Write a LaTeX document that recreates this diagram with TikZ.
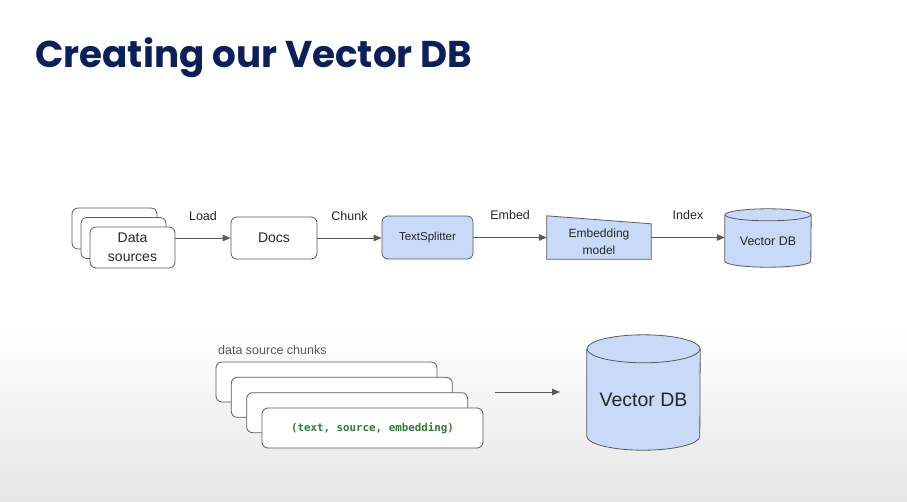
\documentclass[tikz,border=0pt]{standalone}
\usepackage{fontspec}
\setmainfont{Liberation Sans}
\newfontfamily\titlefont{Poppins}
\newfontfamily\codefont{DejaVu Sans Mono}
\usetikzlibrary{arrows.meta,backgrounds}

\definecolor{titlenavy}{HTML}{0B1F5C}
\definecolor{edgegray}{HTML}{5A5A5A}
\definecolor{dbblue}{HTML}{C9DAF8}
\definecolor{codegreen}{HTML}{2E7D32}
\definecolor{textgray}{HTML}{262626}

\tikzset{
  rbox/.style={draw=edgegray, line width=0.8pt, rounded corners=6pt, fill=white,
    inner sep=0pt, align=center, text=textgray},
  flow/.style={draw=edgegray, line width=0.8pt, -{Triangle[length=8pt,width=6.5pt]}},
  steplabel/.style={midway, anchor=base, yshift=18pt, text=textgray,
    font=\fontsize{12.5}{15}\selectfont},
}

\begin{document}
\begin{tikzpicture}[x=1pt,y=1pt]
	\useasboundingbox (0,0) rectangle (907,-501);
	
	% title
	\node[anchor=base west, inner sep=0pt, text=titlenavy,
	font=\titlefont\bfseries\fontsize{37.3}{42}\selectfont] (title) at (35,-67) {Creating our Vector DB};
	
	%--- top row: load -> chunk -> embed -> index ---
	\foreach \i/\dx/\dy in {1/0/0, 2/9/9.5}{
		\node[rbox, minimum width=85pt, minimum height=41pt] (ds\i) at (114.5+\dx,-228.5-\dy) {};
	}
	\node[rbox, minimum width=85pt, minimum height=41pt, font=\fontsize{14}{19}\selectfont] (ds3) at (132.5,-247.5) {Data\\sources};
	\node[rbox, minimum width=86pt, minimum height=42pt, font=\fontsize{14}{17}\selectfont] (docs) at (274,-238) {Docs};
	\node[rbox, fill=dbblue, minimum width=91pt, minimum height=43pt, font=\fontsize{11.5}{14}\selectfont] (split) at (427.5,-237.5) {TextSplitter};
	\node[inner sep=0pt, minimum width=104pt, minimum height=35pt, align=center, text=textgray,
	font=\fontsize{12}{17}\selectfont] (embed) at (599,-241.5) {Embedding\\model};
	\node[inner sep=0pt, minimum width=86pt, minimum height=52pt, text=textgray,
	font=\fontsize{12.5}{15}\selectfont] (vdb) at (768,-241) {Vector DB};
	
	% connectors with step names
	\draw[flow] (ds3.east |- docs.west) -- node[steplabel] {Load} (docs.west);
	\draw[flow] (docs.east) -- node[steplabel] {Chunk} (docs.east -| split.west);
	\draw[flow] (split.east) -- node[steplabel] {Embed} (split.east -| embed.west);
	\draw[flow] (embed.east |- split.east) -- node[steplabel] {Index} (split.east -| vdb.west);
	
	%--- bottom row: chunks into the store ---
	\node[anchor=base west, inner sep=0pt, text=black!65, font=\fontsize{12.5}{15}\selectfont] (chunkcap) at (218,-354) {data source chunks};
	\foreach \i in {1,2,3}{
		\node[rbox, minimum width=221pt, minimum height=40pt] (chunk\i) at ({326.5+15.33*(\i-1)},{-382-15.33*(\i-1)}) {};
	}
	\node[rbox, minimum width=221pt, minimum height=40pt, text=codegreen,
	font=\codefont\bfseries\fontsize{10.8}{13}\selectfont] (chunk4) at (372.5,-428) {(text, source, embedding)};
	\node[inner sep=0pt, minimum width=113pt, minimum height=101pt, text=textgray,
	font=\fontsize{19.5}{23}\selectfont] (bigdb) at (643.5,-399.5) {Vector DB};
	
	\coordinate (tail) at (495,-392);
	\coordinate (head) at (560,-392);
	\draw[flow] (tail) -- (head);
	
	%--- shapes behind the texts ---
	\begin{scope}[on background layer]
		\fill[white] (0,0) rectangle (907,-501);
		\shade[top color=white, bottom color=gray!20] (0,-330) rectangle (907,-501);
		% embedding model (slanted top)
		\filldraw[fill=dbblue, draw=edgegray, line width=0.8pt]
		([yshift=8pt]embed.north west) -- (embed.north east) -- (embed.south east) -- (embed.south west) -- cycle;
		% cylinders
		\foreach \db/\rx/\ry in {vdb/43/6, bigdb/56.5/14}{
			\filldraw[fill=dbblue, draw=edgegray, line width=0.8pt]
			(\db.north west) -- ([yshift=\ry pt]\db.south west)
			arc[start angle=180, end angle=360, x radius=\rx pt, y radius=\ry pt]
			-- (\db.north east);
			\filldraw[fill=dbblue, draw=edgegray, line width=0.8pt]
			(\db.north) ellipse[x radius=\rx pt, y radius=\ry pt];
		}
	\end{scope}
	
\end{tikzpicture}
\end{document}
